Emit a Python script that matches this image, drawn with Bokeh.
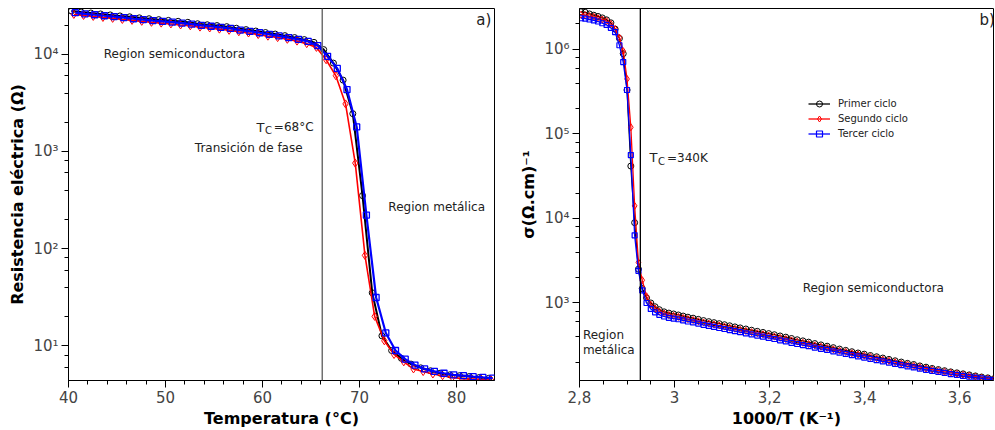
from bokeh.plotting import figure
from bokeh.layouts import row
from bokeh.models import (Range1d, FixedTicker, SingleIntervalTicker, CustomJSTickFormatter,
                          Span, Label, Legend, LegendItem)
from bokeh.embed import file_html
from bokeh.resources import INLINE

FONT = "DejaVu Sans"

# ---------------- panel a) : resistance vs temperature ----------------
left_T_black = [40.3, 41.3, 42.3, 43.3, 44.3, 45.3, 46.3, 47.3, 48.3, 49.3,
                50.3, 51.3, 52.3, 53.3, 54.3, 55.3, 56.3, 57.3, 58.3, 59.3,
                60.3, 61.3, 62.3, 63.3, 64.3, 65.3, 66.3, 67.3, 68.3, 69.3,
                70.3, 71.3, 72.3, 73.3, 74.3, 75.3, 76.3, 77.3, 78.3, 79.3,
                80.3, 81.3, 82.3, 83.3]
left_R_black = [28000, 27300, 26700, 26100, 25500, 24900, 24400, 23800, 23300, 22800,
                22400, 21900, 21400, 20700, 20200, 19800, 19300, 18600, 18000, 17400,
                16800, 16200, 15600, 14900, 14200, 13300, 11200, 8130, 5430, 2450,
                351, 35, 12.6, 8.9, 7.4, 6.45, 5.9, 5.5, 5.2, 5.0,
                4.9, 4.8, 4.68, 4.6]

left_T_red = [40.55, 41.55, 42.55, 43.55, 44.55, 45.55, 46.55, 47.55, 48.55, 49.55,
              50.55, 51.55, 52.55, 53.55, 54.55, 55.55, 56.55, 57.55, 58.55, 59.55,
              60.55, 61.55, 62.55, 63.55, 64.55, 65.55, 66.55, 67.55, 68.55, 69.55,
              70.55, 71.55, 72.55, 73.55, 74.55, 75.55, 76.55, 77.55, 78.55, 79.55,
              80.55, 81.55, 82.55, 83.55]
left_R_red = [25800, 25200, 24600, 24000, 23500, 22900, 22400, 21900, 21400, 21000,
              20600, 20100, 19700, 19100, 18700, 18200, 17700, 17100, 16600, 16000,
              15400, 14900, 14300, 13700, 12900, 11800, 8810, 6030, 3090, 759,
              85, 20, 11.2, 8.1, 6.8, 5.75, 5.4, 5.1, 4.9, 4.7,
              4.57, 4.52, 4.47, 4.42]

left_T_blue = [40.7, 41.7, 42.7, 43.7, 44.7, 45.7, 46.7, 47.7, 48.7, 49.7,
               50.7, 51.7, 52.7, 53.7, 54.7, 55.7, 56.7, 57.7, 58.7, 59.7,
               60.7, 61.7, 62.7, 63.7, 64.7, 65.7, 66.7, 67.7, 68.7, 69.7,
               70.7, 71.7, 72.7, 73.7, 74.7, 75.7, 76.7, 77.7, 78.7, 79.7,
               80.7, 81.7, 82.7, 83.7]
left_R_blue = [26900, 26200, 25600, 25000, 24500, 23900, 23300, 22800, 22300, 21900,
               21500, 21000, 20500, 19900, 19500, 19000, 18500, 17800, 17300, 16700,
               16100, 15500, 14900, 14300, 13600, 12300, 9550, 7160, 4340, 1790,
               221, 31.3, 13.5, 8.9, 7.25, 6.3, 5.75, 5.43, 5.19, 5.0,
               4.9, 4.79, 4.7, 4.62]

TC_LEFT = 66.15

# ---------------- panel b) : conductivity vs 1000/T ----------------
right_x = [2.803, 2.812, 2.821, 2.830, 2.839, 2.848, 2.857, 2.866, 2.875, 2.884,
           2.892, 2.900, 2.908, 2.916, 2.924, 2.932, 2.941, 2.950, 2.959, 2.968,
           2.978, 2.988, 2.998, 3.008, 3.018, 3.028, 3.039, 3.050, 3.061, 3.072,
           3.083, 3.094, 3.105, 3.116, 3.127, 3.138, 3.150, 3.162, 3.174, 3.186,
           3.198, 3.210, 3.222, 3.234, 3.246, 3.258, 3.270, 3.282, 3.295, 3.308,
           3.321, 3.334, 3.347, 3.360, 3.373, 3.386, 3.399, 3.412, 3.425, 3.438,
           3.451, 3.464, 3.477, 3.490, 3.503, 3.516, 3.529, 3.542, 3.555, 3.568,
           3.581, 3.594, 3.607, 3.620, 3.633, 3.646, 3.659, 3.672]
right_s_black = [2.79e6, 2.75e6, 2.63e6, 2.54e6, 2.455e6, 2.36e6, 2.24e6, 2.065e6, 1.74e6, 1.35e6,
                 8.91e5, 3.31e5, 4.17e4, 8910, 2510, 1480, 1150, 1000, 902, 832,
                 785, 759, 741, 721, 700, 679, 661, 640, 619, 601,
                 585, 569, 553, 537, 521, 507, 492, 476, 462, 448,
                 434, 421, 407, 394, 380, 367, 356, 344, 331, 319,
                 308, 296, 285, 275, 265, 256, 248, 239, 231, 223,
                 215, 207, 200, 193, 187, 180, 174, 168, 163, 158,
                 153, 149, 145, 141, 137, 133, 130, 127]
right_s_red = [2.57e6, 2.54e6, 2.48e6, 2.43e6, 2.34e6, 2.26e6, 2.16e6, 2.0e6, 1.74e6, 1.38e6,
               9.55e5, 4.47e5, 1.2e5, 1.41e4, 3020, 1860, 1200, 955, 861, 794,
               750, 721, 705, 685, 665, 645, 628, 608, 588, 571,
               556, 541, 525, 510, 495, 482, 467, 452, 439, 426,
               412, 400, 387, 374, 361, 349, 338, 327, 315, 304,
               294, 283, 273, 264, 254, 246, 238, 230, 222, 214,
               207, 199, 192, 186, 180, 174, 168, 163, 158, 153,
               149, 145, 141, 138, 134, 130, 127, 125]
right_s_blue = [2.34e6, 2.32e6, 2.26e6, 2.21e6, 2.14e6, 2.04e6, 1.95e6, 1.80e6, 1.60e6, 1.12e6,
                7.08e5, 3.31e5, 5.62e4, 6310, 2400, 1410, 1000, 851, 776, 724,
                692, 668, 653, 642, 623, 604, 588, 570, 551, 535,
                521, 506, 492, 478, 464, 451, 438, 424, 411, 399,
                386, 375, 362, 351, 338, 327, 318, 308, 297, 287,
                278, 268, 258, 250, 241, 233, 226, 218, 211, 204,
                197, 190, 184, 178, 173, 167, 162, 157, 153, 149,
                144, 141, 137, 134, 131, 128, 125, 122]

TC_RIGHT = 2.928

series_names = ["Primer ciclo", "Segundo ciclo", "Tercer ciclo"]

assert len(left_T_black) == len(left_R_black)
assert len(left_T_red) == len(left_R_red)
assert len(left_T_blue) == len(left_R_blue)
assert len(right_x) == len(right_s_black) == len(right_s_red) == len(right_s_blue)

LOG_FMT = CustomJSTickFormatter(code="""
const s = {'0':'\u2070','1':'\u00b9','2':'\u00b2','3':'\u00b3','4':'\u2074','5':'\u2075',
           '6':'\u2076','7':'\u2077','8':'\u2078','9':'\u2079','-':'\u207b'};
const e = Math.round(Math.log10(tick)).toString();
return '10' + e.split('').map(c => s[c]).join('');
""")
COMMA_FMT = CustomJSTickFormatter(code="""
return (Math.round(tick * 10) / 10).toString().replace('.', ',');
""")


def log_ticker(lo, hi):
    major = [10.0 ** e for e in range(lo, hi + 1)]
    minor = [m * 10.0 ** e for e in range(lo - 1, hi + 1) for m in (2, 4, 6, 8)]
    return FixedTicker(ticks=major, minor_ticks=minor)


def style(p):
    p.outline_line_color = "black"
    p.outline_line_width = 1
    p.xgrid.visible = False
    p.ygrid.visible = False
    p.background_fill_color = "white"
    p.border_fill_color = "white"
    for ax in (p.xaxis[0], p.yaxis[0]):
        ax.axis_line_color = "black"
        ax.major_tick_line_color = "black"
        ax.minor_tick_line_color = "black"
        ax.major_tick_out = 7
        ax.major_tick_in = 0
        ax.minor_tick_out = 4
        ax.minor_tick_in = 0
        ax.major_label_text_font = FONT
        ax.major_label_text_font_size = "15px"
        ax.major_label_text_color = "#444444"
        ax.axis_label_text_font = FONT
        ax.axis_label_text_font_size = "16px"
        ax.axis_label_text_font_style = "bold"
        ax.axis_label_text_color = "black"
        ax.major_label_standoff = 3
        ax.axis_label_standoff = 3


def add_series(p, x, y, color, marker, size, lw, mlw):
    rl = p.line(x, y, line_color=color, line_width=lw)
    rs = p.scatter(x, y, marker=marker, size=size, line_color=color, fill_color=None,
                   line_width=mlw)
    return rl, rs


def text(p, x, y, t, size="12px", color="#222222"):
    p.add_layout(Label(x=x, y=y, text=t, text_font=FONT, text_font_size=size,
                       text_color=color, text_baseline="middle", text_align="left"))


# ---------------- left figure ----------------
p1 = figure(width=505, height=430, y_axis_type="log",
            x_range=Range1d(40, 83.9), y_range=Range1d(4.37, 29700),
            output_backend="svg", toolbar_location=None,
            min_border_left=68, min_border_right=11, min_border_top=8, min_border_bottom=49)
style(p1)
p1.xaxis[0].ticker = SingleIntervalTicker(interval=10, num_minor_ticks=5)
p1.yaxis[0].ticker = log_ticker(1, 4)
p1.yaxis[0].formatter = LOG_FMT
p1.xaxis[0].axis_label = "Temperatura (°C)"
p1.yaxis[0].axis_label = "Resistencia eléctrica (Ω)"

p1.add_layout(Span(location=TC_LEFT, dimension="height", line_color="#707070", line_width=1.5))
add_series(p1, left_T_black, left_R_black, "black", "circle", 6, 2, 1)
add_series(p1, left_T_red, left_R_red, "red", "diamond", 8, 1.6, 1)
add_series(p1, left_T_blue, left_R_blue, "blue", "square", 6, 2.2, 1.3)

text(p1, 43.64, 10160, "Region semiconductora")
text(p1, 59.38, 1778, "T", size="13px")
text(p1, 60.25, 1640, "C", size="10px")
text(p1, 61.16, 1778, "=68°C")
text(p1, 53.02, 1074, "Transición de fase")
text(p1, 72.96, 270, "Region metálica")
text(p1, 82.03, 22750, "a)", size="15px")

# ---------------- right figure ----------------
p2 = figure(width=490, height=430, y_axis_type="log",
            x_range=Range1d(2.8, 3.671), y_range=Range1d(121, 3.05e6),
            output_backend="svg", toolbar_location=None,
            min_border_left=74, min_border_right=2, min_border_top=8, min_border_bottom=50)
style(p2)
p2.xaxis[0].ticker = SingleIntervalTicker(interval=0.2, num_minor_ticks=4)
p2.xaxis[0].formatter = COMMA_FMT
p2.yaxis[0].ticker = log_ticker(3, 6)
p2.yaxis[0].formatter = LOG_FMT
p2.xaxis[0].axis_label = "1000/T (K⁻¹)"
p2.yaxis[0].axis_label = "σ(Ω.cm)⁻¹"

p2.add_layout(Span(location=TC_RIGHT, dimension="height", line_color="black", line_width=1.3))
k = add_series(p2, right_x, right_s_black, "black", "circle", 6, 1.3, 1)
r = add_series(p2, right_x, right_s_red, "red", "diamond", 7, 1.3, 1)
b = add_series(p2, right_x, right_s_blue, "blue", "square", 5, 1.3, 1.2)

legend = Legend(items=[LegendItem(label=series_names[0], renderers=list(k)),
                       LegendItem(label=series_names[1], renderers=list(r)),
                       LegendItem(label=series_names[2], renderers=list(b))],
                location=(229, 239), border_line_color=None, background_fill_alpha=0,
                padding=0, margin=0, spacing=0, glyph_width=22, glyph_height=15,
                label_height=15, label_standoff=8, label_text_font=FONT,
                label_text_font_size="10px", label_text_color="#222222")
p2.add_layout(legend)

text(p2, 3.6415, 2.21e6, "b)", size="15px")
text(p2, 2.9474, 52400, "T", size="13px")
text(p2, 2.9650, 47000, "C", size="10px")
text(p2, 2.984, 52400, "=340K")
text(p2, 3.2695, 1503, "Region semiconductora")
text(p2, 2.8072, 423, "Region")
text(p2, 2.8072, 279, "metálica")

layout = row(p1, p2)
with open("out.html", "w", encoding="utf-8") as f:
    f.write(file_html(layout, INLINE))
